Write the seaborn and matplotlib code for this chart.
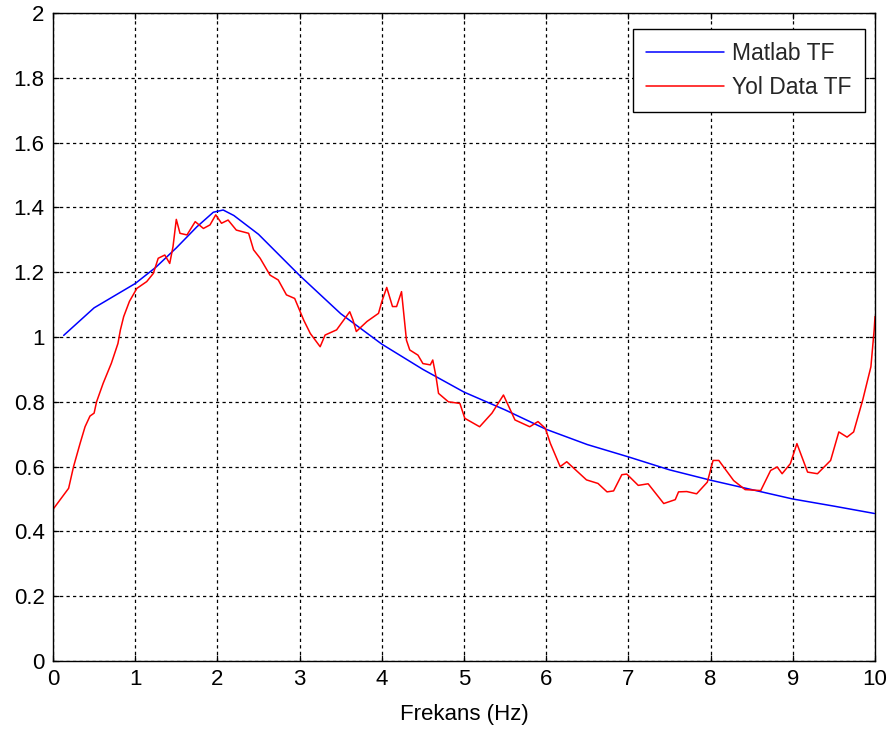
import matplotlib
matplotlib.use("Agg")
import matplotlib.pyplot as plt
import seaborn as sns
import pandas as pd

# Model transfer function magnitude (Matlab TF)
model_freq = [0.13, 0.5, 1.0, 1.25, 1.5, 1.75, 1.95, 2.07, 2.2, 2.5, 3.0, 3.5,
              4.0, 4.5, 5.0, 5.5, 6.0, 6.5, 7.0, 7.5, 8.0, 8.5, 9.0, 9.5, 10.0]
model_mag = [1.005, 1.09, 1.165, 1.215, 1.275, 1.34, 1.385, 1.392, 1.375, 1.317,
             1.19, 1.072, 0.978, 0.90, 0.83, 0.775, 0.715, 0.668, 0.63, 0.59,
             0.558, 0.529, 0.50, 0.478, 0.455]

# Transfer function estimated from road data (Yol Data TF)
road_freq = [0.0, 0.19, 0.25, 0.33, 0.39, 0.45, 0.50, 0.53, 0.61, 0.71, 0.79, 0.82,
             0.86, 0.93, 1.02, 1.14, 1.22, 1.28, 1.36, 1.42, 1.46, 1.50, 1.545,
             1.63, 1.73, 1.83, 1.91, 1.98, 2.05, 2.13, 2.23, 2.38, 2.44, 2.52,
             2.64, 2.74, 2.84, 2.94, 3.05, 3.13, 3.25, 3.31, 3.45, 3.61, 3.65,
             3.69, 3.82, 3.96, 4.00, 4.06, 4.13, 4.18, 4.24, 4.30, 4.34, 4.44,
             4.50, 4.59, 4.62, 4.66, 4.69, 4.81, 4.95, 5.01, 5.19, 5.34, 5.48,
             5.62, 5.80, 5.90, 5.99, 6.05, 6.17, 6.25, 6.49, 6.63, 6.74, 6.82,
             6.92, 6.98, 7.12, 7.24, 7.43, 7.57, 7.61, 7.71, 7.83, 7.96, 8.03,
             8.10, 8.28, 8.42, 8.61, 8.73, 8.81, 8.87, 8.97, 9.05, 9.18, 9.30,
             9.46, 9.56, 9.66, 9.74, 9.85, 9.95, 9.99, 10.0]
road_mag = [0.468, 0.533, 0.60, 0.672, 0.723, 0.756, 0.765, 0.80, 0.857, 0.919,
            0.98, 1.022, 1.063, 1.11, 1.15, 1.171, 1.196, 1.243, 1.253, 1.227,
            1.279, 1.363, 1.32, 1.315, 1.356, 1.335, 1.346, 1.377, 1.351, 1.361,
            1.330, 1.320, 1.269, 1.243, 1.191, 1.176, 1.13, 1.119, 1.052, 1.011,
            0.970, 1.006, 1.022, 1.078, 1.052, 1.017, 1.048, 1.073, 1.109, 1.153,
            1.094, 1.094, 1.140, 0.99, 0.960, 0.944, 0.918, 0.914, 0.929, 0.877,
            0.826, 0.80, 0.795, 0.749, 0.723, 0.765, 0.821, 0.744, 0.723, 0.739,
            0.718, 0.672, 0.60, 0.615, 0.559, 0.548, 0.522, 0.525, 0.575, 0.577,
            0.542, 0.547, 0.486, 0.498, 0.522, 0.523, 0.516, 0.552, 0.619, 0.619,
            0.557, 0.529, 0.526, 0.588, 0.599, 0.578, 0.609, 0.671, 0.583, 0.578,
            0.619, 0.707, 0.691, 0.707, 0.805, 0.908, 1.022, 1.063]

x_ticks = list(range(0, 11))
y_ticks = [0, 0.2, 0.4, 0.6, 0.8, 1, 1.2, 1.4, 1.6, 1.8, 2]
y_tick_labels = ["0", "0.2", "0.4", "0.6", "0.8", "1", "1.2", "1.4", "1.6", "1.8", "2"]

model_df = pd.DataFrame({"freq": model_freq, "mag": model_mag})
road_df = pd.DataFrame({"freq": road_freq, "mag": road_mag})

sns.set_theme(style="white")
plt.rcParams["font.family"] = ["Liberation Sans", "DejaVu Sans"]

fig = plt.figure(figsize=(8.94, 7.35), dpi=100)
fig.patch.set_facecolor("white")
ax = fig.add_axes([53 / 894, 1 - 661 / 735, 822 / 894, 648 / 735])
ax.set_facecolor("white")

sns.lineplot(data=model_df, x="freq", y="mag", ax=ax, color="#0000ff",
             linewidth=1.1, label="Matlab TF", sort=False)
sns.lineplot(data=road_df, x="freq", y="mag", ax=ax, color="#ff0000",
             linewidth=1.1, label="Yol Data TF", sort=False)

ax.set_xlim(0, 10)
ax.set_ylim(0, 2)
ax.set_xticks(x_ticks)
ax.set_yticks(y_ticks)
ax.set_yticklabels(y_tick_labels)

ax.grid(True, color="black", linestyle=(0, (2.6, 2.6)), linewidth=0.9)
ax.set_axisbelow(True)
for spine in ax.spines.values():
    spine.set_visible(True)
    spine.set_color("black")
    spine.set_linewidth(1.0)

ax.tick_params(axis="both", which="both", direction="in", length=4, width=0.9,
               top=True, right=True, bottom=True, left=True,
               labelsize=16, colors="black", pad=6)

ax.set_xlabel("Frekans (Hz)", fontsize=16, color="black", labelpad=10)
ax.set_ylabel("")

leg = ax.legend(loc="upper right", bbox_to_anchor=(812 / 822, 632 / 648),
                borderaxespad=0, fontsize=16.5, handlelength=3.4,
                handletextpad=0.35, labelspacing=0.45, borderpad=0.58,
                fancybox=False, frameon=True, framealpha=1)
leg.get_frame().set_edgecolor("black")
leg.get_frame().set_linewidth(1.0)

fig.savefig("out.png", dpi=100, facecolor="white")
